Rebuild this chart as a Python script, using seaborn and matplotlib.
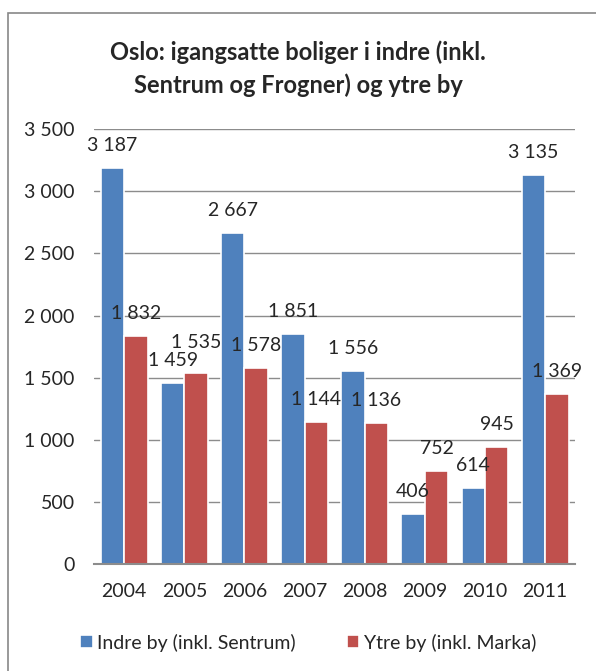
import pandas as pd, numpy as np
import matplotlib
matplotlib.use('Agg')
import matplotlib.pyplot as plt
import seaborn as sns
from matplotlib.patches import Rectangle

# Data
years = ['2004', '2005', '2006', '2007', '2008', '2009', '2010', '2011']
indre = [3187, 1459, 2667, 1851, 1556, 406, 614, 3135]
ytre = [1832, 1535, 1578, 1144, 1136, 752, 945, 1369]
series = ['Indre by (inkl. Sentrum)', 'Ytre by (inkl. Marka)']
farger = ['#4F81BD', '#C0504D']

df = pd.DataFrame({'År': years * 2,
                   'Boliger': indre + ytre,
                   'Område': [series[0]] * len(years) + [series[1]] * len(years)})

sns.set_style('white')
plt.rcParams['font.family'] = ['Lato', 'DejaVu Sans']
FS = 14

fig = plt.figure(figsize=(5.96, 6.71), dpi=100)
ax = fig.add_axes([0.158, 0.1595, 0.807, 0.648])

sns.barplot(data=df, x='År', y='Boliger', hue='Område', palette=farger,
            width=0.78, edgecolor='white', linewidth=1.2, saturation=1, ax=ax)

def fmt(v):
    return f'{int(round(v)):,}'.replace(',', ' ')

# Excel løfter 1 535-etiketten litt for å unngå overlapp med 1 459
loft = {(1, 1): 6}
for i, c in enumerate(ax.containers):
    tekster = ax.bar_label(c, labels=[fmt(v) for v in c.datavalues], padding=10, fontsize=FS)
    for j, t in enumerate(tekster):
        dy = loft.get((i, j), 0)
        if dy:
            x0, y0 = t.get_position()
            t.set_position((x0, y0 + dy))

ax.set_ylim(0, 3500)
ax.set_yticks(np.arange(0, 3501, 500))
ax.set_yticklabels([fmt(v) for v in np.arange(0, 3501, 500)], fontsize=FS)
ax.tick_params(axis='x', labelsize=FS, length=0, pad=14)
ax.tick_params(axis='y', length=0, pad=14)
ax.set_xlabel(''); ax.set_ylabel('')
ax.yaxis.grid(True, color='#8c8c8c', linewidth=1)
ax.set_axisbelow(True)
for s in ['top', 'right', 'left']:
    ax.spines[s].set_visible(False)
ax.spines['bottom'].set_color('#8c8c8c')
ax.spines['bottom'].set_linewidth(1.5)

ax.legend(loc='upper center', bbox_to_anchor=(0.445, -0.12), ncol=2, frameon=False,
          fontsize=FS, handlelength=0.65, handleheight=0.65, handletextpad=0.25,
          columnspacing=2.6)

fig.text(0.5, 0.898, 'Oslo: igangsatte boliger i indre (inkl.\nSentrum og Frogner) og ytre by',
         ha='center', va='center', fontsize=17, fontweight='bold', linespacing=1.5)

# ramme rundt diagrammet (delvis utenfor bildet)
fig.patches.append(Rectangle((8 / 596, -0.05), 1.0, 1 - 13 / 671 + 0.05,
                             transform=fig.transFigure, fill=False,
                             edgecolor='#888888', linewidth=1.2))

plt.savefig('out.png', dpi=100)
